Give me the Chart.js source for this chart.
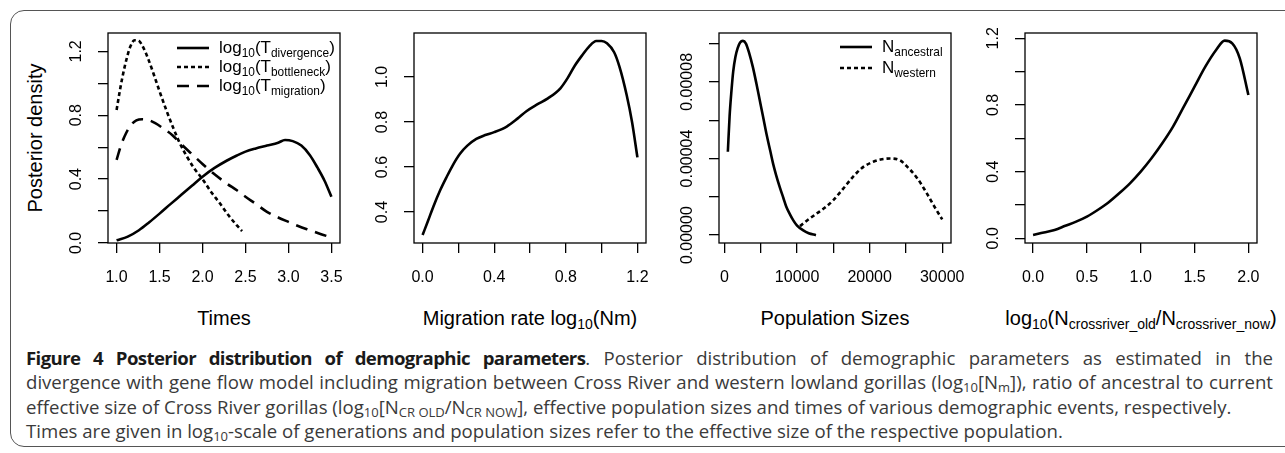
<!DOCTYPE html>
<html>
<head>
<meta charset="utf-8">
<script src="https://cdn.jsdelivr.net/npm/chart.js@4.4.1/dist/chart.umd.min.js"></script>
<style>
  body { margin: 0; width: 1285px; height: 453px; overflow: hidden; background: #fff; position: relative;
         font-family: "Liberation Sans", Arial, sans-serif; color: #000; }
  .frame { position: absolute; left: 10px; top: 10px; width: 1330px; height: 437px; box-sizing: border-box;
           border: 1.5px solid #555; border-radius: 14px; }
  canvas { position: absolute; }
  .ttl { position: absolute; width: 400px; text-align: center; font-size: 20px; white-space: nowrap; line-height: 24px; }
  .ttl sub, .leg sub { font-size: 0.7em; vertical-align: -0.3em; line-height: 0; }
  .ylab { position: absolute; left: 35px; top: 138px; font-size: 20px; white-space: nowrap;
          transform: translate(-50%, -50%) rotate(-90deg); }
  .leg { position: absolute; height: 20px; display: flex; align-items: center; font-size: 17px; white-space: nowrap; }
  .leg svg { margin-right: 10px; }
  .cap { position: absolute; left: 26px; width: 1247px; font-family: "Open Sans", sans-serif; font-size: 18.6px;
         color: #3a3a3a; white-space: nowrap; line-height: 24px; }
  .cap.j { text-align: justify; text-align-last: justify; }
  .cap b { color: #1a1a1a; letter-spacing: -0.6px; }
  .cap sub { font-size: 0.7em; vertical-align: -0.25em; line-height: 0; }
</style>
</head>
<body>
<div class="frame"></div>

<canvas id="c1" width="332" height="280" style="left:48px;top:23px"></canvas>
<canvas id="c2" width="332" height="280" style="left:354px;top:23px"></canvas>
<canvas id="c3" width="332" height="280" style="left:659px;top:23px"></canvas>
<canvas id="c4" width="332" height="280" style="left:965px;top:23px"></canvas>

<div class="ylab">Posterior density</div>

<div class="leg" style="left:177px;top:38px">
  <svg width="32" height="6"><line x1="0" y1="3" x2="32" y2="3" stroke="#000" stroke-width="2.6"/></svg>
  <span>log<sub>10</sub>(T<sub>divergence</sub>)</span></div>
<div class="leg" style="left:177px;top:57px">
  <svg width="32" height="6"><line x1="0" y1="3" x2="32" y2="3" stroke="#000" stroke-width="2.6" stroke-dasharray="4 3"/></svg>
  <span>log<sub>10</sub>(T<sub>bottleneck</sub>)</span></div>
<div class="leg" style="left:177px;top:76px">
  <svg width="32" height="6"><line x1="0" y1="3" x2="32" y2="3" stroke="#000" stroke-width="2.6" stroke-dasharray="12 8"/></svg>
  <span>log<sub>10</sub>(T<sub>migration</sub>)</span></div>

<div class="leg" style="left:840px;top:37px">
  <svg width="32" height="6"><line x1="0" y1="3" x2="32" y2="3" stroke="#000" stroke-width="2.6"/></svg>
  <span>N<sub>ancestral</sub></span></div>
<div class="leg" style="left:840px;top:58px">
  <svg width="32" height="6"><line x1="0" y1="3" x2="32" y2="3" stroke="#000" stroke-width="2.6" stroke-dasharray="4 3"/></svg>
  <span>N<sub>western</sub></span></div>

<div class="ttl" style="left:24px;top:306px">Times</div>
<div class="ttl" style="left:330px;top:306px">Migration rate log<sub>10</sub>(Nm)</div>
<div class="ttl" style="left:635px;top:306px">Population Sizes</div>
<div class="ttl" style="left:941px;top:306px">log<sub>10</sub>(N<sub>crossriver_old</sub>/N<sub>crossriver_now</sub>)</div>

<div class="cap j" style="top:345.5px"><b>Figure 4 Posterior distribution of demographic parameters</b>. Posterior distribution of demographic parameters as estimated in the</div>
<div class="cap j" style="top:370px">divergence with gene flow model including migration between Cross River and western lowland gorillas (log<sub>10</sub>[N<sub>m</sub>]), ratio of ancestral to current</div>
<div class="cap" style="top:394.5px">effective size of Cross River gorillas (log<sub>10</sub>[N<sub>CR OLD</sub>/N<sub>CR NOW</sub>], effective population sizes and times of various demographic events, respectively.</div>
<div class="cap" style="top:419px">Times are given in log<sub>10</sub>-scale of generations and population sizes refer to the effective size of the respective population.</div>

<script>
const FONT = '"Liberation Sans", Arial, sans-serif';

// panel 1: times (log10 generations)
const divX = [1.0, 1.13, 1.26, 1.38, 1.5, 1.63, 1.75, 1.88, 2.0, 2.14, 2.28, 2.4, 2.5, 2.62, 2.75, 2.88, 2.96, 3.05, 3.15, 3.25, 3.34, 3.42, 3.5];
const divY = [0.017, 0.04, 0.08, 0.13, 0.184, 0.245, 0.30, 0.36, 0.415, 0.47, 0.515, 0.548, 0.572, 0.592, 0.61, 0.628, 0.645, 0.638, 0.61, 0.55, 0.47, 0.39, 0.29];
const botX = [1.0, 1.04, 1.08, 1.12, 1.16, 1.21, 1.26, 1.31, 1.37, 1.43, 1.5, 1.58, 1.66, 1.74, 1.82, 1.9, 2.0, 2.1, 2.2, 2.3, 2.4, 2.46];
const botY = [0.833, 0.96, 1.07, 1.16, 1.23, 1.27, 1.265, 1.225, 1.15, 1.06, 0.95, 0.83, 0.72, 0.62, 0.54, 0.47, 0.40, 0.32, 0.25, 0.175, 0.11, 0.075];
const migX = [1.0, 1.05, 1.11, 1.17, 1.23, 1.3, 1.37, 1.45, 1.55, 1.65, 1.75, 1.88, 2.0, 2.14, 2.28, 2.4, 2.5, 2.62, 2.75, 2.88, 3.0, 3.12, 3.25, 3.38, 3.5];
const migY = [0.52, 0.61, 0.687, 0.74, 0.768, 0.775, 0.77, 0.75, 0.715, 0.675, 0.62, 0.555, 0.495, 0.43, 0.373, 0.33, 0.29, 0.245, 0.195, 0.16, 0.132, 0.105, 0.08, 0.055, 0.035];

// panel 2: migration rate
const nmX = [0, 0.03, 0.06, 0.1, 0.135, 0.17, 0.21, 0.25, 0.3, 0.35, 0.4, 0.47, 0.53, 0.58, 0.64, 0.7, 0.77, 0.81, 0.85, 0.89, 0.93, 0.97, 1.0, 1.03, 1.07, 1.1, 1.14, 1.17, 1.2];
const nmY = [0.298, 0.36, 0.424, 0.5, 0.557, 0.61, 0.66, 0.695, 0.725, 0.742, 0.755, 0.78, 0.815, 0.848, 0.878, 0.905, 0.95, 0.995, 1.05, 1.095, 1.135, 1.16, 1.16, 1.15, 1.11, 1.045, 0.92, 0.80, 0.643];

// panel 3: population sizes
const ancX = [460, 700, 950, 1200, 1500, 1800, 2150, 2530, 2950, 3400, 3900, 4400, 4850, 5300, 5800, 6300, 6700, 7100, 7600, 8100, 8500, 9000, 9500, 10000, 10800, 11600, 12600];
const ancY = [4.35e-5, 6.2e-5, 7.5e-5, 8.55e-5, 9.3e-5, 9.75e-5, 10.05e-5, 10.14e-5, 10.0e-5, 9.5e-5, 8.78e-5, 7.9e-5, 7.05e-5, 6.2e-5, 5.25e-5, 4.4e-5, 3.72e-5, 3.15e-5, 2.52e-5, 1.95e-5, 1.5e-5, 1.1e-5, 0.76e-5, 0.5e-5, 0.26e-5, 0.1e-5, 0.0];
const wesX = [10400, 11500, 12700, 13900, 15000, 16300, 17700, 19100, 20500, 21500, 22800, 24200, 25100, 26500, 27900, 28800, 30000];
const wesY = [0.47e-5, 0.8e-5, 1.13e-5, 1.45e-5, 1.83e-5, 2.4e-5, 3.04e-5, 3.55e-5, 3.83e-5, 3.95e-5, 4.0e-5, 3.9e-5, 3.6e-5, 3.0e-5, 2.17e-5, 1.57e-5, 0.82e-5];

// panel 4: log10(N old / N now)
const crX = [0, 0.1, 0.2, 0.3, 0.4, 0.5, 0.6, 0.7, 0.8, 0.9, 1.0, 1.1, 1.2, 1.3, 1.4, 1.5, 1.6, 1.7, 1.78, 1.85, 1.92, 2.0];
const crY = [0.02, 0.035, 0.05, 0.075, 0.1, 0.13, 0.17, 0.215, 0.27, 0.33, 0.40, 0.48, 0.57, 0.67, 0.79, 0.91, 1.03, 1.13, 1.186, 1.17, 1.08, 0.86];

// ticks
const p1XTicks = [1.0, 1.5, 2.0, 2.5, 3.0, 3.5];
const p1XLabels = ["1.0", "1.5", "2.0", "2.5", "3.0", "3.5"];
const p1YTicks = [0, 0.2, 0.4, 0.6, 0.8, 1.0, 1.2];
const p1YLabels = ["0.0", "", "0.4", "", "0.8", "", "1.2"];
const p2XTicks = [0, 0.2, 0.4, 0.6, 0.8, 1.0, 1.2];
const p2XLabels = ["0.0", "", "0.4", "", "0.8", "", "1.2"];
const p2YTicks = [0.4, 0.6, 0.8, 1.0];
const p2YLabels = ["0.4", "0.6", "0.8", "1.0"];
const p3XTicks = [0, 5000, 10000, 15000, 20000, 25000, 30000];
const p3XLabels = ["0", "", "10000", "", "20000", "", "30000"];
const p3YTicks = [0, 2e-5, 4e-5, 6e-5, 8e-5, 10e-5];
const p3YLabels = ["0.00000", "", "0.00004", "", "0.00008", ""];
const p4XTicks = [0, 0.5, 1.0, 1.5, 2.0];
const p4XLabels = ["0.0", "0.5", "1.0", "1.5", "2.0"];
const p4YTicks = [0, 0.2, 0.4, 0.6, 0.8, 1.0, 1.2];
const p4YLabels = ["0.0", "", "0.4", "", "0.8", "", "1.2"];

const pts = (xs, ys) => xs.map((x, i) => ({ x: x, y: ys[i] }));
const curve = (xs, ys, dash) => ({
  data: pts(xs, ys), borderColor: "#000", borderWidth: 2.6, borderDash: dash || [],
  pointRadius: 0, fill: false, tension: 0.4, cubicInterpolationMode: "monotone", borderCapStyle: "butt"
});

function makePanel(id, p) {
  // R-like box plus rotated y tick labels
  const rbox = {
    id: "rbox",
    afterDraw(chart) {
      const { ctx, chartArea: a } = chart;
      const ys = chart.scales.y;
      ctx.save();
      ctx.strokeStyle = "#000";
      ctx.lineWidth = 1.3;
      ctx.strokeRect(a.left, a.top, a.right - a.left, a.bottom - a.top);
      ctx.fillStyle = "#000";
      ctx.font = "16px " + FONT;
      ctx.textAlign = "center";
      ctx.textBaseline = "middle";
      p.yTicks.forEach((v, i) => {
        if (!p.yLabels[i]) return;
        ctx.save();
        ctx.translate(a.left - 31, ys.getPixelForValue(v));
        ctx.rotate(-Math.PI / 2);
        ctx.fillText(p.yLabels[i], 0, 0);
        ctx.restore();
      });
      ctx.restore();
    }
  };
  const grid = { display: true, drawOnChartArea: false, drawTicks: true, tickLength: 10, color: "#000", lineWidth: 1.3 };
  new Chart(document.getElementById(id), {
    type: "line",
    data: { datasets: p.datasets },
    options: {
      responsive: false, animation: false, devicePixelRatio: 1, events: [],
      layout: { padding: { top: 10, right: 40, left: 0, bottom: 0 } },
      plugins: { legend: { display: false }, tooltip: { enabled: false } },
      scales: {
        x: {
          type: "linear", min: p.xMin, max: p.xMax, grid: grid, border: { display: false },
          ticks: { color: "#000", font: { family: FONT, size: 16 }, padding: 15, maxRotation: 0, autoSkip: false,
                   callback: (v, i) => p.xLabels[i] },
          afterBuildTicks: (s) => { s.ticks = p.xTicks.map((v) => ({ value: v })); },
          afterFit: (s) => { s.height = 60; s.paddingLeft = 0; s.paddingRight = 0; }
        },
        y: {
          type: "linear", min: p.yMin, max: p.yMax, grid: grid, border: { display: false },
          ticks: { display: false },
          afterBuildTicks: (s) => { s.ticks = p.yTicks.map((v) => ({ value: v })); },
          afterFit: (s) => { s.width = 60; s.paddingTop = 0; s.paddingBottom = 0; }
        }
      }
    },
    plugins: [rbox]
  });
}

makePanel("c1", {
  xMin: 0.9, xMax: 3.6, yMin: 0, yMax: 1.315,
  xTicks: p1XTicks, xLabels: p1XLabels, yTicks: p1YTicks, yLabels: p1YLabels,
  datasets: [curve(divX, divY), curve(botX, botY, [4, 3]), curve(migX, migY, [12, 8])]
});
makePanel("c2", {
  xMin: -0.048, xMax: 1.248, yMin: 0.2625, yMax: 1.1955,
  xTicks: p2XTicks, xLabels: p2XLabels, yTicks: p2YTicks, yLabels: p2YLabels,
  datasets: [curve(nmX, nmY)]
});
makePanel("c3", {
  xMin: -760, xMax: 31210, yMin: -0.41e-5, yMax: 10.55e-5,
  xTicks: p3XTicks, xLabels: p3XLabels, yTicks: p3YTicks, yLabels: p3YLabels,
  datasets: [curve(ancX, ancY), curve(wesX, wesY, [4, 3])]
});
makePanel("c4", {
  xMin: -0.075, xMax: 2.08, yMin: -0.028, yMax: 1.232,
  xTicks: p4XTicks, xLabels: p4XLabels, yTicks: p4YTicks, yLabels: p4YLabels,
  datasets: [curve(crX, crY)]
});
</script>
</body>
</html>
